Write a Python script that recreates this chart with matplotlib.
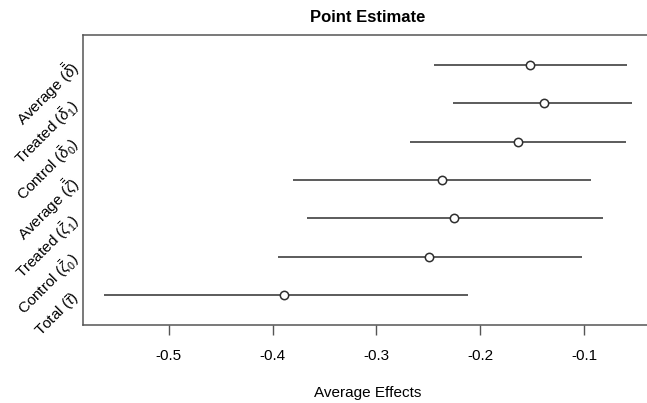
import numpy as np
import matplotlib
matplotlib.use("Agg")
import matplotlib.pyplot as plt

plt.rcParams['font.family'] = ['Liberation Sans', 'DejaVu Sans']
plt.rcParams['mathtext.fontset'] = 'custom'
plt.rcParams['mathtext.rm'] = 'Liberation Sans'
plt.rcParams['mathtext.it'] = 'Liberation Sans:italic'

labels = [r"Average ($\bar{\bar{\delta}}$)",
          r"Treated ($\bar{\delta}_1$)",
          r"Control ($\bar{\delta}_0$)",
          r"Average ($\bar{\bar{\zeta}}$)",
          r"Treated ($\bar{\zeta}_1$)",
          r"Control ($\bar{\zeta}_0$)",
          r"Total ($\bar{\tau}$)"]
estimate = [-0.152, -0.139, -0.164, -0.237, -0.225, -0.249, -0.389]
lower = [-0.245, -0.226, -0.268, -0.380, -0.367, -0.395, -0.563]
upper = [-0.059, -0.054, -0.060, -0.093, -0.082, -0.102, -0.212]
xticks = [-0.5, -0.4, -0.3, -0.2, -0.1]

W, H = 647, 403
fig = plt.figure(figsize=(W / 100, H / 100), dpi=100)
# plot box runs slightly past the right edge, like the original
ax = fig.add_axes([83 / W, 1 - 325 / H, (653 - 83) / W, 290 / H])

rows = np.arange(1, len(labels) + 1)
col = '#2f2f2f'
ax.hlines(rows, lower, upper, color=col, lw=1.1)
ax.plot(estimate, rows, 'o', mfc='white', mec=col, ms=6, mew=1.1)

ax.set_xlim(-0.5828, -0.0335)
ax.set_ylim(7.78, 0.22)
ax.set_xticks(xticks)
ax.set_xticklabels([f"{t:g}" for t in xticks], fontsize=11)
ax.tick_params(axis='x', length=7, width=1, color='#555555', pad=10)
ax.set_yticks([])
for s in ax.spines.values():
    s.set_color('#555555')
    s.set_linewidth(1.1)

for r, lab in zip(rows, labels):
    ax.text(-0.012, r, lab, transform=ax.get_yaxis_transform(),
            rotation=45, rotation_mode='anchor', ha='right', va='center',
            fontsize=11)

ax.set_xlabel("Average Effects", fontsize=11, labelpad=17)
fig.text(368 / W, 1 - 18 / H, "Point Estimate", ha='center', va='center',
         fontsize=12, fontweight='bold')

fig.savefig("out.png", dpi=100)
